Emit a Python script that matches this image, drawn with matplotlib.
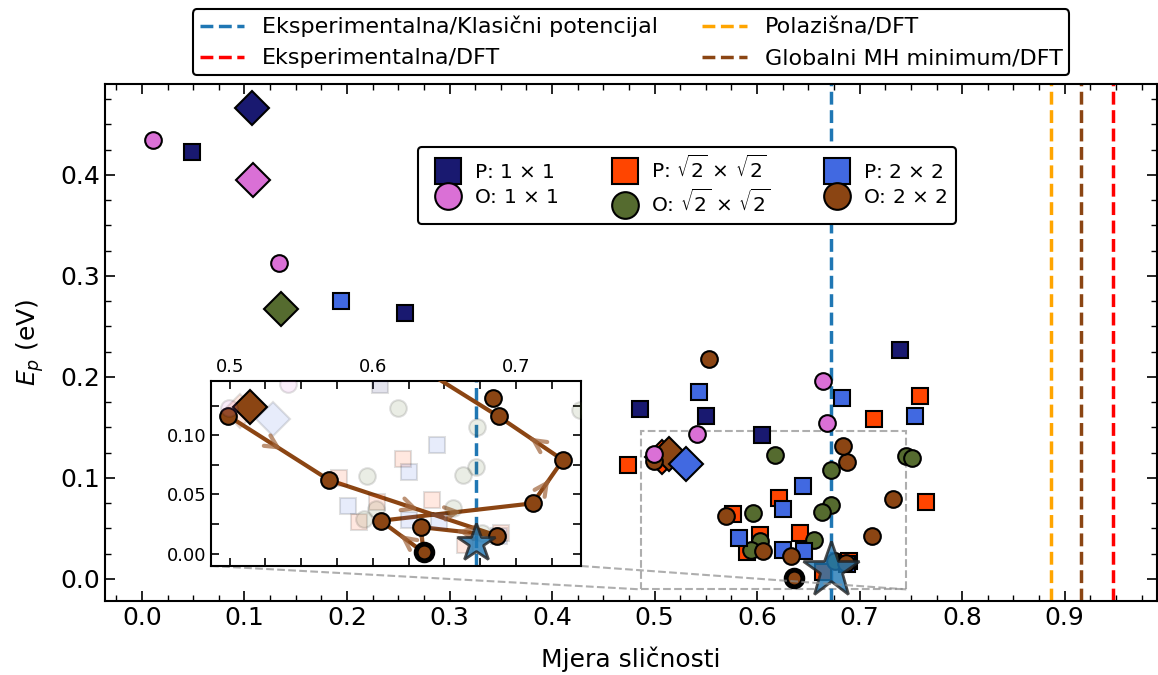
#!/usr/bin/env python3
"""
Similarity measure vs energy (E_p) with zoomed inset of the MH trajectory
"""

import numpy as np
import matplotlib
matplotlib.use('Agg')
import matplotlib.pyplot as plt
from matplotlib.lines import Line2D
from matplotlib.ticker import MultipleLocator, FormatStrFormatter
from mpl_toolkits.axes_grid1.inset_locator import mark_inset

plt.rcParams['font.family'] = 'DejaVu Sans'
plt.rcParams['font.size'] = 18
plt.rcParams['mathtext.fontset'] = 'dejavusans'
plt.rcParams['axes.linewidth'] = 1.5

# ---- data ----
# P 1x1 (navy squares)
p11_x = [0.0489, 0.2568, 0.4855, 0.5500, 0.6048, 0.7397]
p11_y = [0.4222, 0.2634, 0.1680, 0.1611, 0.1423, 0.2265]
p11_d = (0.107, 0.4667)

# O 1x1 (orchid circles)
o11_x = [0.0108, 0.1339, 0.5410, 0.4995, 0.6641, 0.6680]
o11_y = [0.4344, 0.3123, 0.1433, 0.1235, 0.1960, 0.1545]
o11_d = (0.1085, 0.3948)

# P sqrt2 x sqrt2 (orangered squares)
pr2_x = [0.4741, 0.7136, 0.7586, 0.7645, 0.6209, 0.5764, 0.6028, 0.6417, 0.5903, 0.6895, 0.6641]
pr2_y = [0.1122, 0.1578, 0.1810, 0.0760, 0.0800, 0.0641, 0.0436, 0.0455, 0.0264, 0.0178, 0.0069]
pr2_d = (0.507, 0.121)

# O sqrt2 x sqrt2 (olive circles)
or2_x = [0.6175, 0.7449, 0.7514, 0.6725, 0.5960, 0.6722, 0.6628, 0.6559, 0.6025, 0.5940, 0.6763]
or2_y = [0.1228, 0.1215, 0.1198, 0.1073, 0.0656, 0.0734, 0.0663, 0.0383, 0.0375, 0.0290, 0.0177]
or2_d = (0.1353, 0.2667)

# P 2x2 (royalblue squares)
p22_x = [0.1942, 0.5429, 0.6830, 0.7540, 0.6446, 0.6250, 0.5826, 0.6250, 0.6461, 0.6880]
p22_y = [0.2750, 0.1845, 0.1786, 0.1613, 0.0918, 0.0687, 0.0403, 0.0284, 0.0279, 0.0150]
p22_d = (0.5305, 0.114)

# O 2x2 (brown circles) -- MH trajectory points
o22_x = [0.4990, 0.5695, 0.6865, 0.6335, 0.6355, 0.6055, 0.7117, 0.7328, 0.6879, 0.5535, 0.6842]
o22_y = [0.1165, 0.0622, 0.0153, 0.0224, 0.0010, 0.0278, 0.0425, 0.0792, 0.1160, 0.2175, 0.1313]
o22_d = (0.5145, 0.1238)
path_idx = [0, 1, 2, 3, 4, 5, 6, 7, 8, 9]

# global minimum (star)
star_x, star_y = 0.672, 0.009

# reference similarity values (vertical lines)
vline_vals = [0.672, 0.947, 0.887, 0.916]
vline_labels = ['Eksperimentalna/Klasični potencijal', 'Eksperimentalna/DFT',
                'Polazišna/DFT', 'Globalni MH minimum/DFT']
vline_colors = ['#1f77b4', '#ff0000', '#ffa500', '#8b4513']

series_labels = [r'P: 1 $\times$ 1', r'O: 1 $\times$ 1',
                 r'P: $\sqrt{2}$ $\times$ $\sqrt{2}$', r'O: $\sqrt{2}$ $\times$ $\sqrt{2}$',
                 r'P: 2 $\times$ 2', r'O: 2 $\times$ 2']
series_colors = ['#191970', '#da70d6', '#ff4500', '#556b2f', '#4169e1', '#8b4513']
series_markers = ['s', 'o', 's', 'o', 's', 'o']
series_x = [p11_x, o11_x, pr2_x, or2_x, p22_x, o22_x]
series_y = [p11_y, o11_y, pr2_y, or2_y, p22_y, o22_y]
series_d = [p11_d, o11_d, pr2_d, or2_d, p22_d, o22_d]

MS = 12
MS_D = 17


def draw_points(ax, fade_all_but=None, alpha_fade=0.12):
    # diamonds first (starting structures)
    for k in [0, 1, 2, 3, 5, 4]:
        a = 1.0 if (fade_all_but is None or k == fade_all_but) else alpha_fade
        ax.plot(*series_d[k], marker='D', ms=MS_D, color=series_colors[k],
                mec='k', mew=1.5, ls='none', alpha=a, zorder=3)
    for k in [2, 3, 4, 5, 0, 1]:
        a = 1.0 if (fade_all_but is None or k == fade_all_but) else alpha_fade
        ax.plot(series_x[k], series_y[k], marker=series_markers[k], ms=MS,
                color=series_colors[k], mec='k', mew=1.5, ls='none',
                alpha=a, zorder=4)


def create_figure():
    fig = plt.figure(figsize=(11.58, 6.75), dpi=100)
    ax = fig.add_axes([105 / 1158, 74 / 675, 1052 / 1158, 517 / 675])

    draw_points(ax)
    # the bold minimum circle
    ax.plot(o22_x[4], o22_y[4], 'o', ms=MS, color=series_colors[5], mec='k',
            mew=3.5, zorder=4)
    ax.plot(star_x, star_y, marker='*', ms=42, color='#1f77b4', alpha=0.8,
            mec='#222222', mew=2, ls='none', zorder=5)

    vlines = []
    for v, c, lab in zip(vline_vals, vline_colors, vline_labels):
        vlines.append(ax.axvline(v, color=c, ls='--', lw=2.5, label=lab, zorder=2))

    ax.set_xlim(-0.036, 0.99)
    ax.set_ylim(-0.022, 0.49)
    ax.xaxis.set_major_locator(MultipleLocator(0.1))
    ax.xaxis.set_minor_locator(MultipleLocator(0.025))
    ax.yaxis.set_major_locator(MultipleLocator(0.1))
    ax.yaxis.set_minor_locator(MultipleLocator(0.025))
    ax.xaxis.set_major_formatter(FormatStrFormatter('%.1f'))
    ax.yaxis.set_major_formatter(FormatStrFormatter('%.1f'))
    ax.tick_params(which='both', direction='in', top=True, right=True)
    ax.tick_params(which='major', length=7, width=1.2)
    ax.tick_params(which='minor', length=4, width=1.0)
    ax.set_xlabel('Mjera sličnosti', fontsize=18, labelpad=12)
    ax.set_ylabel(r'$E_p$ (eV)', fontsize=18, labelpad=10)

    # legend for reference lines (above the axes)
    leg1 = ax.legend(handles=vlines, loc='lower center', bbox_to_anchor=(0.5, 1.0),
                     ncol=2, fontsize=16, frameon=True, fancybox=True,
                     framealpha=1, edgecolor='black', borderaxespad=0.4,
                     borderpad=0.3, columnspacing=2.0)
    leg1.get_frame().set_linewidth(1.5)
    ax.add_artist(leg1)

    # legend for structure families
    handles = [Line2D([], [], marker=m, ms=MS, color=c, mec='k', mew=1.5,
                      ls='none', label=l)
               for m, c, l in zip(series_markers, series_colors, series_labels)]
    leg2 = ax.legend(handles=handles, loc='upper left', bbox_to_anchor=(0.2975, 0.878),
                     ncol=3, fontsize=14.5, markerscale=1.6, framealpha=1,
                     edgecolor='black', handlelength=2.2, handletextpad=0.2,
                     columnspacing=2.2, borderaxespad=0, labelspacing=0.3)
    leg2.get_frame().set_linewidth(1.5)

    # inset: zoom on the MH trajectory
    axins = ax.inset_axes([0.1008, 0.0677, 0.3517, 0.3578])
    draw_points(axins, fade_all_but=5)
    px = [o22_x[i] for i in path_idx]
    py = [o22_y[i] for i in path_idx]
    axins.plot(px, py, color=series_colors[5], lw=3, zorder=3.5)
    for i in range(len(px) - 1):
        mx, my = (px[i] + px[i + 1]) / 2, (py[i] + py[i + 1]) / 2
        dx, dy = px[i + 1] - px[i], py[i + 1] - py[i]
        axins.annotate('', xy=(mx + 0.05 * dx, my + 0.05 * dy),
                       xytext=(mx - 0.05 * dx, my - 0.05 * dy),
                       arrowprops=dict(arrowstyle='->', color='#a0643a', alpha=0.7,
                                       lw=3, mutation_scale=22),
                       zorder=3.6)
    axins.plot(o22_x[4], o22_y[4], 'o', ms=MS, color=series_colors[5], mec='k',
               mew=3.5, zorder=4)
    axins.axvline(vline_vals[0], color=vline_colors[0], ls='--', lw=2.5, zorder=2)
    axins.plot(star_x, star_y, marker='*', ms=29, color='#1f77b4', alpha=0.8,
               mec='#222222', mew=2, ls='none', zorder=5)

    axins.set_xlim(0.487, 0.7455)
    axins.set_ylim(-0.0105, 0.146)
    axins.xaxis.set_major_locator(MultipleLocator(0.1))
    axins.xaxis.set_minor_locator(MultipleLocator(0.025))
    axins.yaxis.set_major_locator(MultipleLocator(0.05))
    axins.yaxis.set_minor_locator(MultipleLocator(0.025))
    axins.xaxis.set_major_formatter(FormatStrFormatter('%.1f'))
    axins.yaxis.set_major_formatter(FormatStrFormatter('%.2f'))
    axins.tick_params(which='both', direction='in', top=True, right=True,
                      labeltop=True, labelbottom=False, labelsize=13)
    axins.tick_params(which='major', length=6, width=1.2)
    axins.tick_params(which='minor', length=6, width=1.2)

    mark_inset(ax, axins, loc1=3, loc2=4, fc='none', ec='0.55', ls='--',
               lw=1.5, alpha=0.7)

    return fig


def main():
    fig = create_figure()
    fig.savefig('out.png', dpi=100)


if __name__ == '__main__':
    main()
